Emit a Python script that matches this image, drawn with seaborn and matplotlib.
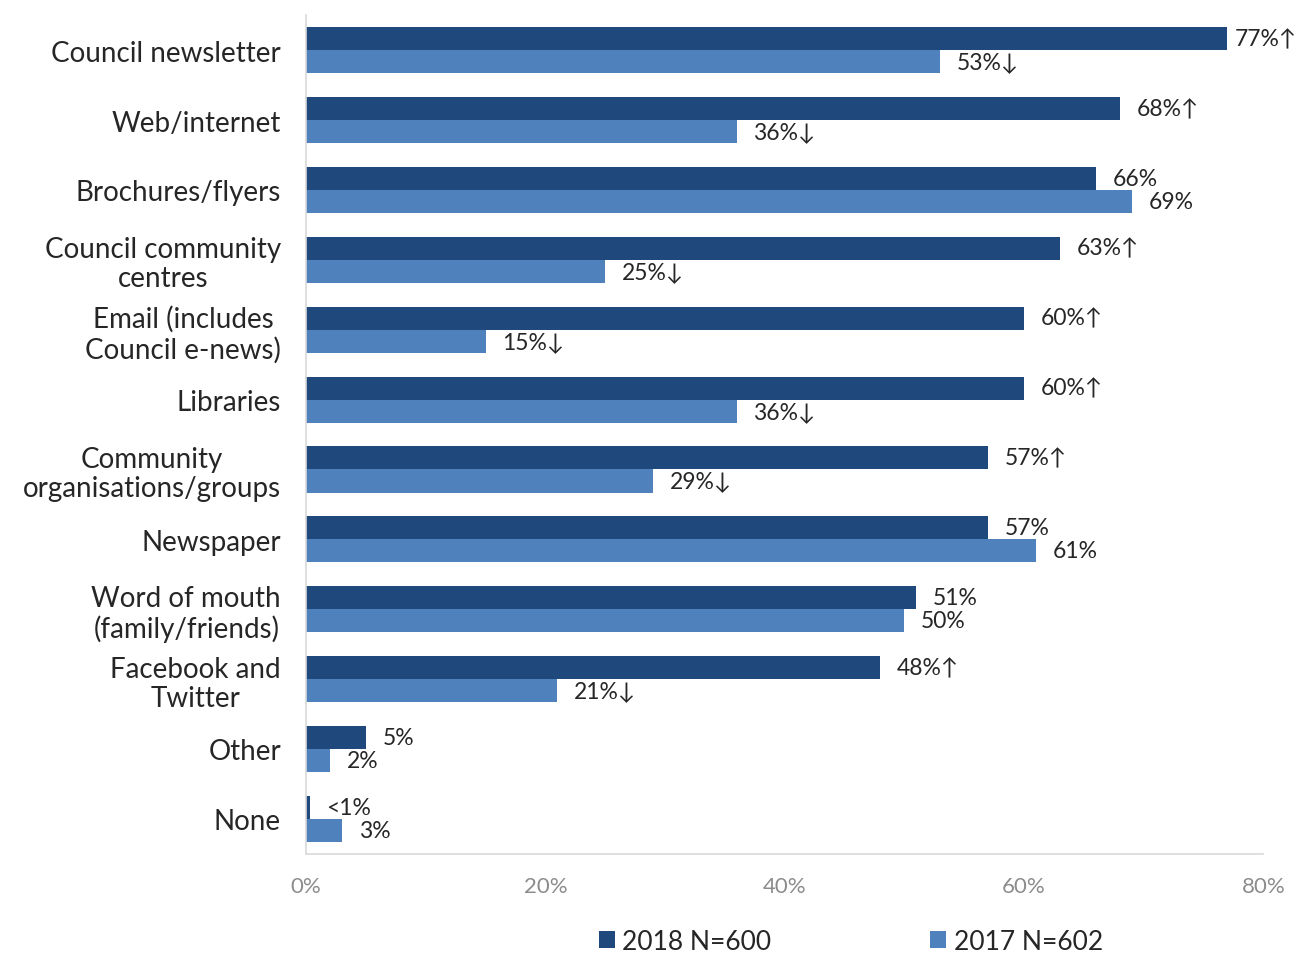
import matplotlib
matplotlib.use("Agg")
import matplotlib.pyplot as plt
from matplotlib.patches import Patch
from matplotlib.ticker import FixedLocator, FuncFormatter
import numpy as np
import pandas as pd
import seaborn as sns

categories = [
    "Council newsletter",
    "Web/internet",
    "Brochures/flyers",
    "Council community\ncentres",
    "Email (includes\nCouncil e-news)",
    "Libraries",
    "Community\norganisations/groups",
    "Newspaper",
    "Word of mouth\n(family/friends)",
    "Facebook and\nTwitter",
    "Other",
    "None",
]
values_2018 = [77, 68, 66, 63, 60, 60, 57, 57, 51, 48, 5, 0.3]
values_2017 = [53, 36, 69, 25, 15, 36, 29, 61, 50, 21, 2, 3]
labels_2018 = ["77%↑", "68%↑", "66%", "63%↑", "60%↑", "60%↑", "57%↑", "57%",
               "51%", "48%↑", "5%", "<1%"]
labels_2017 = ["53%↓", "36%↓", "69%", "25%↓", "15%↓", "36%↓", "29%↓", "61%",
               "50%", "21%↓", "2%", "3%"]
series_names = ["2018 N=600", "2017 N=602"]
x_ticks = [0, 20, 40, 60, 80]

colors = {"2018 N=600": "#1F497D", "2017 N=602": "#4F81BD"}

sns.set_theme(style="white")
plt.rcParams["font.family"] = ["Lato", "DejaVu Sans"]

df = pd.DataFrame({
    "category": categories * 2,
    "value": values_2018 + values_2017,
    "series": [series_names[0]] * len(categories) + [series_names[1]] * len(categories),
})

fig = plt.figure(figsize=(12.97, 9.54), dpi=100)
ax = fig.add_axes([0.236, 0.104, 0.738, 0.879])

sns.barplot(data=df, y="category", x="value", hue="series", orient="h",
            palette=colors, width=0.66, gap=0, dodge=True, ax=ax,
            saturation=1, legend=False, edgecolor="none")

# value labels just past the end of each bar; the longest one sits closer
for cont, labs in zip(ax.containers, [labels_2018, labels_2017]):
    for bar, lab in zip(cont.patches, labs):
        end = bar.get_x() + bar.get_width()
        yc = bar.get_y() + bar.get_height() / 2
        off = 5 if end > 75 else 12
        ax.annotate(lab, xy=(end, yc), xytext=(off, 0), textcoords="offset points",
                    ha="left", va="center", fontsize=16.5, color="#262626",
                    annotation_clip=False)

ax.set_xlim(0, 80)
ax.set_ylim(len(categories) - 0.5, -0.5)
ax.set_xlabel("")
ax.set_ylabel("")

ax.xaxis.set_major_locator(FixedLocator(x_ticks))
ax.xaxis.set_major_formatter(FuncFormatter(lambda v, p: f"{v:.0f}%"))
ax.tick_params(axis="x", which="major", direction="out", length=6, width=1,
               color="#D9D9D9", labelsize=16, labelcolor="#8C8C8C", pad=10)

ax.set_yticks(np.arange(len(categories)))
ax.set_yticklabels(categories, fontsize=20, color="#262626", linespacing=1.15)
for t in ax.get_yticklabels():
    t.set_multialignment("center")
ax.tick_params(axis="y", which="major", length=0, pad=18)
ax.yaxis.set_minor_locator(FixedLocator(np.arange(-0.5, len(categories), 1.0)))
ax.tick_params(axis="y", which="minor", direction="out", length=6, width=1,
               color="#D9D9D9")

for side in ["top", "right"]:
    ax.spines[side].set_visible(False)
for side in ["left", "bottom"]:
    ax.spines[side].set_color("#D9D9D9")
    ax.spines[side].set_linewidth(1.2)

handles = [Patch(facecolor=colors[n], edgecolor="none", label=n) for n in series_names]
fig.legend(handles=handles, loc="center", bbox_to_anchor=(0.656, 0.012),
           ncol=2, frameon=False, fontsize=19, handlelength=0.6,
           handleheight=0.6, handletextpad=0.3, columnspacing=6.0)

fig.savefig("out.png", dpi=100)
